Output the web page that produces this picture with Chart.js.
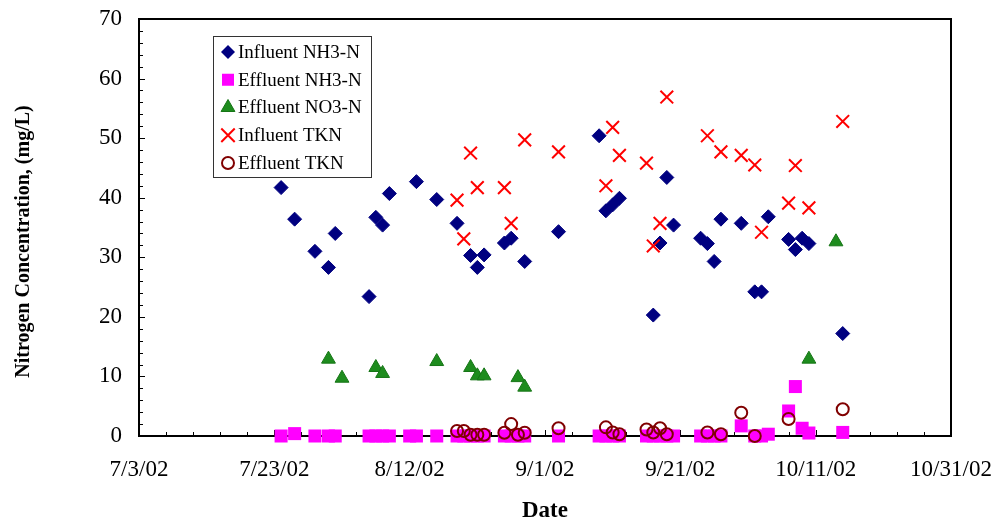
<!DOCTYPE html>
<html>
<head>
<meta charset="utf-8">
<script src="https://cdn.jsdelivr.net/npm/chart.js@4/dist/chart.umd.min.js"></script>
<style>
html,body{margin:0;padding:0;background:#fff;}
#wrap{width:992px;height:523px;}
</style>
</head>
<body>
<div id="wrap"><canvas id="c" width="992" height="523"></canvas></div>
<script>
// ---------- DATA ----------
const tickLabels = ['7/3/02','7/23/02','8/12/02','9/1/02','9/21/02','10/11/02','10/31/02'];
const yTicks = [0,10,20,30,40,50,60,70];

const influentNH3Dates = ['7/24/02','7/26/02','7/29/02','7/31/02','8/1/02','8/6/02','8/7/02','8/8/02','8/9/02','8/13/02',
  '8/16/02','8/19/02','8/21/02','8/22/02','8/23/02','8/26/02','8/27/02','8/29/02','9/3/02','9/9/02',
  '9/10/02','9/11/02','9/12/02','9/17/02','9/18/02','9/19/02','9/20/02','9/24/02','9/25/02','9/26/02',
  '9/27/02','9/30/02','10/2/02','10/3/02','10/4/02','10/7/02','10/8/02','10/9/02','10/10/02','10/15/02'];
const influentNH3Values = [41.7,36.4,31.0,28.3,34.0,23.4,36.7,35.4,40.7,42.7,
  39.7,35.7,30.3,28.3,30.4,32.4,33.2,29.3,34.3,50.4,
  37.8,38.8,39.9,20.3,32.4,43.4,35.4,33.2,32.3,29.3,
  36.4,35.7,24.2,24.2,36.8,33.0,31.3,33.2,32.3,17.2];

const effluentNH3Dates = ['7/24/02','7/26/02','7/29/02','7/31/02','8/1/02','8/6/02','8/7/02','8/8/02','8/9/02','8/12/02','8/13/02',
  '8/16/02','8/19/02','8/20/02','8/21/02','8/22/02','8/23/02','8/26/02','8/27/02','8/28/02','8/29/02','9/3/02','9/9/02',
  '9/10/02','9/11/02','9/12/02','9/16/02','9/17/02','9/18/02','9/19/02','9/20/02','9/24/02','9/25/02','9/26/02',
  '9/27/02','9/30/02','10/2/02','10/3/02','10/4/02','10/7/02','10/8/02','10/9/02','10/10/02','10/15/02'];
const effluentNH3Values = [0,0.4,0,0,0,0,0,0,0,0,0,
  0,0,0,0,0,0,0,0,0,0,0,0,
  0,0,0,0,0,0,0,0,0,0,0,
  0,1.7,0,0,0.3,4.2,8.3,1.3,0.5,0.6];

const effluentNO3Dates = ['7/31/02','8/2/02','8/7/02','8/8/02','8/16/02','8/21/02','8/22/02','8/23/02','8/28/02','8/29/02','10/10/02','10/14/02'];
const effluentNO3Values = [12.9,9.7,11.5,10.5,12.5,11.5,10.1,10.1,9.8,8.2,12.9,32.6];

const influentTKNDates = ['8/19/02','8/20/02','8/21/02','8/22/02','8/26/02','8/27/02','8/29/02','9/3/02','9/10/02','9/11/02',
  '9/12/02','9/16/02','9/17/02','9/18/02','9/19/02','9/25/02','9/27/02','9/30/02','10/2/02','10/3/02',
  '10/7/02','10/8/02','10/10/02','10/15/02'];
const influentTKNValues = [39.6,33.1,47.5,41.7,41.7,35.7,49.7,47.7,42.0,51.8,
  47.1,45.8,31.9,35.7,56.9,50.4,47.7,47.1,45.5,34.2,
  39.1,45.4,38.3,52.8];

const effluentTKNDates = ['8/19/02','8/20/02','8/21/02','8/22/02','8/23/02','8/26/02','8/27/02','8/28/02','8/29/02','9/3/02',
  '9/10/02','9/11/02','9/12/02','9/16/02','9/17/02','9/18/02','9/19/02','9/25/02','9/27/02','9/30/02',
  '10/2/02','10/7/02','10/15/02'];
const effluentTKNValues = [0.85,0.85,0.2,0.2,0.2,0.55,2.0,0.2,0.55,1.3,
  1.45,0.6,0.3,1.1,0.6,1.3,0.3,0.6,0.3,3.9,
  0,2.85,4.5];

const seriesNames = ['Influent NH3-N','Effluent NH3-N','Effluent NO3-N','Influent TKN','Effluent TKN'];
const yTitle = 'Nitrogen Concentration, (mg/L)';
const xTitle = 'Date';

// ---------- HELPERS ----------
function dayOf(s){
  const p = s.split('/').map(Number);
  return Math.round((Date.UTC(2000+p[2], p[0]-1, p[1]) - Date.UTC(2002,6,3)) / 86400000);
}
function pts(dates, vals){ return dates.map((d,i)=>({x: dayOf(d), y: vals[i]})); }

const FONT = "'Liberation Serif','Times New Roman',serif";
const xMin = dayOf(tickLabels[0]);
const xMax = dayOf(tickLabels[tickLabels.length-1]);

const styles = [
  {pointStyle:'rectRot', radius:7, backgroundColor:'#000080', borderColor:'#000080', borderWidth:1},
  {pointStyle:'rect', radius:9.2, backgroundColor:'#FF00FF', borderColor:'#FF00FF', borderWidth:0},
  {pointStyle:'triangle', radius:8, backgroundColor:'#1E8C1E', borderColor:'#167516', borderWidth:1},
  {pointStyle:'crossRot', radius:9, backgroundColor:'#FF0000', borderColor:'#FF0000', borderWidth:2},
  {pointStyle:'circle', radius:6, backgroundColor:'rgba(0,0,0,0)', borderColor:'#800000', borderWidth:2}
];
const allData = [
  pts(influentNH3Dates, influentNH3Values),
  pts(effluentNH3Dates, effluentNH3Values),
  pts(effluentNO3Dates, effluentNO3Values),
  pts(influentTKNDates, influentTKNValues),
  pts(effluentTKNDates, effluentTKNValues)
];

const datasets = seriesNames.map((name,i)=>({
  label: name,
  data: allData[i],
  pointStyle: styles[i].pointStyle,
  pointRadius: styles[i].radius,
  pointHoverRadius: styles[i].radius,
  pointBackgroundColor: styles[i].backgroundColor,
  pointBorderColor: styles[i].borderColor,
  pointBorderWidth: styles[i].borderWidth,
  backgroundColor: styles[i].backgroundColor,
  borderColor: styles[i].borderColor,
  showLine: false,
  clip: false,
  order: 5 - i
}));

// frame + inward ticks + titles
const framePlugin = {
  id: 'frame',
  beforeDatasetsDraw(chart){
    const {ctx, chartArea:a, scales:{x, y}} = chart;
    ctx.save();
    ctx.strokeStyle = '#000';
    ctx.lineWidth = 1;
    for (let v = 0; v <= 70; v += 2){
      const py = Math.round(y.getPixelForValue(v)) + 0.5;
      const len = (v % 10 === 0) ? 6 : 4;
      ctx.beginPath(); ctx.moveTo(a.left, py); ctx.lineTo(a.left + len, py); ctx.stroke();
    }
    for (let d = xMin; d <= xMax; d += 4){
      const px = Math.round(x.getPixelForValue(d)) + 0.5;
      const len = ((d - xMin) % 20 === 0) ? 6 : 4;
      ctx.beginPath(); ctx.moveTo(px, a.bottom); ctx.lineTo(px, a.bottom - len); ctx.stroke();
    }
    ctx.lineWidth = 2;
    ctx.strokeRect(a.left, a.top, a.right - a.left, a.bottom - a.top);
    ctx.fillStyle = '#000';
    ctx.textAlign = 'center';
    ctx.textBaseline = 'middle';
    ctx.font = 'bold 20px ' + FONT;
    ctx.save();
    ctx.translate(24, (a.top + a.bottom) / 2 + 14);
    ctx.rotate(-Math.PI / 2);
    ctx.fillText(yTitle, 0, 0);
    ctx.restore();
    ctx.font = 'bold 23px ' + FONT;
    ctx.fillText(xTitle, (a.left + a.right) / 2, 511);
    ctx.restore();
  }
};

function drawMarker(ctx, st, cx, cy){
  ctx.save();
  ctx.fillStyle = st.backgroundColor;
  ctx.strokeStyle = st.borderColor;
  ctx.lineWidth = st.borderWidth || 1;
  const r = st.radius;
  ctx.beginPath();
  if (st.pointStyle === 'rectRot'){
    ctx.moveTo(cx, cy - r); ctx.lineTo(cx + r, cy); ctx.lineTo(cx, cy + r); ctx.lineTo(cx - r, cy); ctx.closePath();
    ctx.fill();
  } else if (st.pointStyle === 'rect'){
    const h = r * Math.SQRT1_2;
    ctx.rect(cx - h, cy - h, 2*h, 2*h); ctx.fill();
  } else if (st.pointStyle === 'triangle'){
    const w = r * Math.sqrt(3) / 2;
    ctx.moveTo(cx, cy - r); ctx.lineTo(cx + w, cy + r/2); ctx.lineTo(cx - w, cy + r/2); ctx.closePath();
    ctx.fill(); ctx.stroke();
  } else if (st.pointStyle === 'crossRot'){
    const h = r * Math.SQRT1_2;
    ctx.moveTo(cx - h, cy - h); ctx.lineTo(cx + h, cy + h);
    ctx.moveTo(cx + h, cy - h); ctx.lineTo(cx - h, cy + h);
    ctx.stroke();
  } else {
    ctx.arc(cx, cy, r, 0, Math.PI*2); ctx.stroke();
  }
  ctx.restore();
}

const legendPlugin = {
  id: 'boxLegend',
  afterDatasetsDraw(chart){
    const {ctx, chartArea:a} = chart;
    const left = a.left + 74, top = a.top + 17, w = 158, h = 141;
    ctx.save();
    ctx.fillStyle = '#fff';
    ctx.fillRect(left, top, w, h);
    ctx.strokeStyle = '#333';
    ctx.lineWidth = 1;
    ctx.strokeRect(left + 0.5, top + 0.5, w, h);
    ctx.font = '19px ' + FONT;
    ctx.textBaseline = 'middle';
    seriesNames.forEach((name, i)=>{
      const cy = top + 16 + i * 27.75;
      const st = Object.assign({}, styles[i]);
      if (i === 1) st.radius = 8.5;
      if (i === 3) st.radius = 9.5;
      drawMarker(ctx, st, left + 15, cy);
      ctx.fillStyle = '#000';
      ctx.fillText(name, left + 25, cy + 1);
    });
    ctx.restore();
  }
};

new Chart(document.getElementById('c'), {
  type: 'scatter',
  data: { datasets },
  plugins: [framePlugin, legendPlugin],
  options: {
    responsive: false,
    animation: false,
    events: [],
    layout: { padding: { top: 19, right: 41, left: 0, bottom: 0 } },
    plugins: { legend: { display: false }, tooltip: { enabled: false } },
    scales: {
      x: {
        type: 'linear',
        min: xMin, max: xMax,
        afterBuildTicks: s => { s.ticks = tickLabels.map(t => ({ value: dayOf(t) })); },
        afterFit: s => { s.height = 87; s.paddingLeft = 0; s.paddingRight = 0; },
        ticks: {
          autoSkip: false, maxRotation: 0, padding: 20, color: '#000',
          font: { family: FONT, size: 23 },
          callback: v => { const i = tickLabels.findIndex(t => dayOf(t) === v); return i >= 0 ? tickLabels[i] : ''; }
        },
        grid: { display: false, drawTicks: false },
        border: { display: false },
        title: { display: false }
      },
      y: {
        min: 0, max: 70,
        afterBuildTicks: s => { s.ticks = yTicks.map(v => ({ value: v })); },
        afterFit: s => { s.width = 139; s.paddingTop = 0; s.paddingBottom = 0; },
        ticks: { padding: 17, color: '#000', font: { family: FONT, size: 23 } },
        grid: { display: false, drawTicks: false },
        border: { display: false },
        title: { display: false }
      }
    }
  }
});
</script>
</body>
</html>
